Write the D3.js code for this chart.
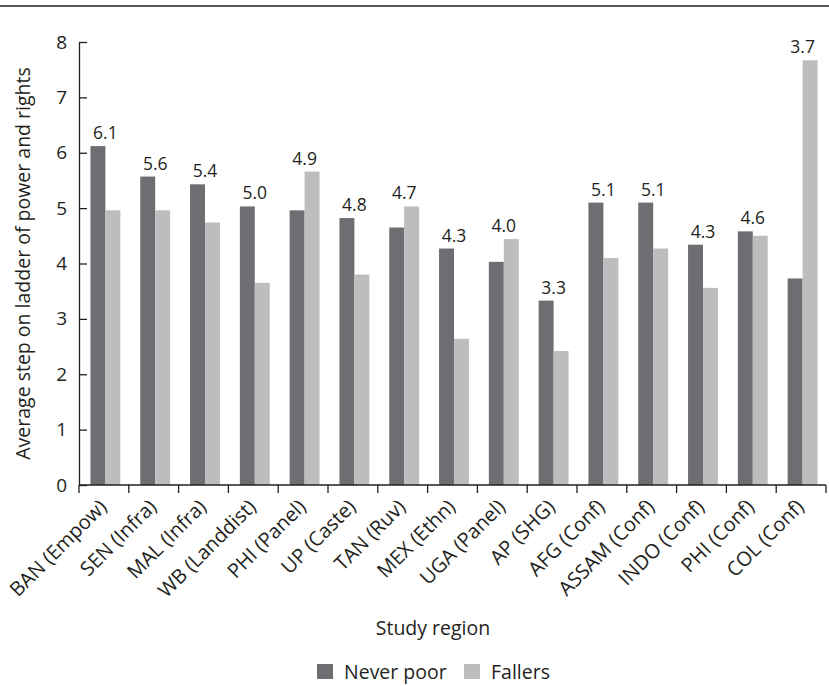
<!DOCTYPE html>
<html>
<head>
<meta charset="utf-8">
<script src="https://cdn.jsdelivr.net/npm/d3@7"></script>
<style>
  html, body { margin: 0; padding: 0; background: #fff; }
  svg { display: block; }
  text { font-family: "Open Sans", sans-serif; fill: #231f20; }
</style>
</head>
<body>
<svg id="chart" width="829" height="686"></svg>
<script>
// ---- data ----
const categories = ["BAN (Empow)", "SEN (Infra)", "MAL (Infra)", "WB (Landdist)", "PHI (Panel)",
  "UP (Caste)", "TAN (Ruv)", "MEX (Ethn)", "UGA (Panel)", "AP (SHG)", "AFG (Conf)",
  "ASSAM (Conf)", "INDO (Conf)", "PHI (Conf)", "COL (Conf)"];
const seriesNames = ["Never poor", "Fallers"];
const neverPoor = [6.12, 5.57, 5.43, 5.03, 4.96, 4.82, 4.65, 4.27, 4.03, 3.33, 5.10, 5.10, 4.34, 4.58, 3.73];
const fallers   = [4.96, 4.96, 4.74, 3.65, 5.66, 3.80, 5.03, 2.64, 4.44, 2.42, 4.10, 4.27, 3.56, 4.50, 7.67];
const valueLabels = ["6.1", "5.6", "5.4", "5.0", "4.9", "4.8", "4.7", "4.3", "4.0", "3.3", "5.1", "5.1", "4.3", "4.6", "3.7"];
const yTicks = [0, 1, 2, 3, 4, 5, 6, 7, 8];
const colors = ["#6d6e71", "#bcbdbf"];

(function () {
// ---- layout ----
const svg = d3.select("#chart");
const pLeft = 79, pRight = 826, pTop = 42, pBottom = 485;

const x = d3.scaleBand().domain(categories).range([pLeft, pRight])
  .paddingInner(0.4).paddingOuter(0.2).align(0.575);
const step = x.step();
const xs = d3.scaleBand().domain(seriesNames).range([0, x.bandwidth()]);
const y = d3.scaleLinear().domain([0, 8]).range([pBottom, pTop]);

// top rule
svg.append("line").attr("x1", 0).attr("x2", 829).attr("y1", 6).attr("y2", 6)
  .attr("stroke", "#231f20").attr("stroke-width", 1.6);

// bars
const rows = categories.map((c, i) => ({ cat: c, vals: [neverPoor[i], fallers[i]], label: valueLabels[i] }));
const g = svg.append("g").selectAll("g").data(rows).join("g")
  .attr("transform", d => `translate(${x(d.cat)},0)`);
g.selectAll("rect").data(d => d.vals.map((v, k) => ({ v, k }))).join("rect")
  .attr("x", d => xs(seriesNames[d.k]))
  .attr("width", xs.bandwidth())
  .attr("y", d => y(d.v))
  .attr("height", d => y(0) - y(d.v))
  .attr("fill", d => colors[d.k]);

// value labels
g.append("text")
  .attr("x", x.bandwidth() / 2)
  .attr("y", d => y(Math.max(...d.vals)) - 7)
  .attr("text-anchor", "middle")
  .style("font-size", "17.5px")
  .text(d => d.label);

// y axis
const yAxis = d3.axisLeft(y).tickValues(yTicks).tickSizeInner(-8).tickSizeOuter(0).tickPadding(12);
const ya = svg.append("g").attr("transform", `translate(${pLeft},0)`).call(yAxis);
ya.select(".domain").attr("stroke", "#231f20").attr("stroke-width", 1.3);
ya.selectAll(".tick line").attr("stroke", "#231f20").attr("stroke-width", 1.3);
ya.selectAll(".tick text").style("font-size", "19px").attr("fill", "#231f20")
  .style("font-family", "'Open Sans', sans-serif");

// x axis line + boundary ticks
const xa = svg.append("g");
xa.append("line").attr("x1", pLeft).attr("x2", pRight).attr("y1", pBottom).attr("y2", pBottom)
  .attr("stroke", "#231f20").attr("stroke-width", 1.3);
const xStep = (pRight - pLeft) / categories.length;
const bounds = d3.range(categories.length + 1).map(i => pLeft + i * xStep);
xa.selectAll("line.tk").data(bounds).join("line").attr("class", "tk")
  .attr("x1", d => d).attr("x2", d => d).attr("y1", pBottom).attr("y2", pBottom + 8)
  .attr("stroke", "#231f20").attr("stroke-width", 1.3);
xa.selectAll("text").data(categories).join("text")
  .attr("transform", (d, i) => `translate(${pLeft + (i + 0.5) * xStep + 4},${pBottom + 23}) rotate(-45)`)
  .attr("text-anchor", "end")
  .style("font-size", "20px")
  .text(d => d);

// axis titles
svg.append("text")
  .attr("transform", `translate(30,${(pTop + pBottom) / 2}) rotate(-90)`)
  .attr("text-anchor", "middle")
  .style("font-size", "19.5px")
  .text("Average step on ladder of power and rights");

svg.append("text")
  .attr("x", 433).attr("y", 635)
  .attr("text-anchor", "middle")
  .style("font-size", "19.5px")
  .text("Study region");

// legend
const legendX = [317, 464];
const lg = svg.append("g").selectAll("g").data(seriesNames).join("g")
  .attr("transform", (d, i) => `translate(${legendX[i]},664)`);
lg.append("rect").attr("width", 16).attr("height", 15).attr("fill", (d, i) => colors[i]);
lg.append("text").attr("x", 27).attr("y", 15).style("font-size", "19.5px").text(d => d);
})();
</script>
</body>
</html>
